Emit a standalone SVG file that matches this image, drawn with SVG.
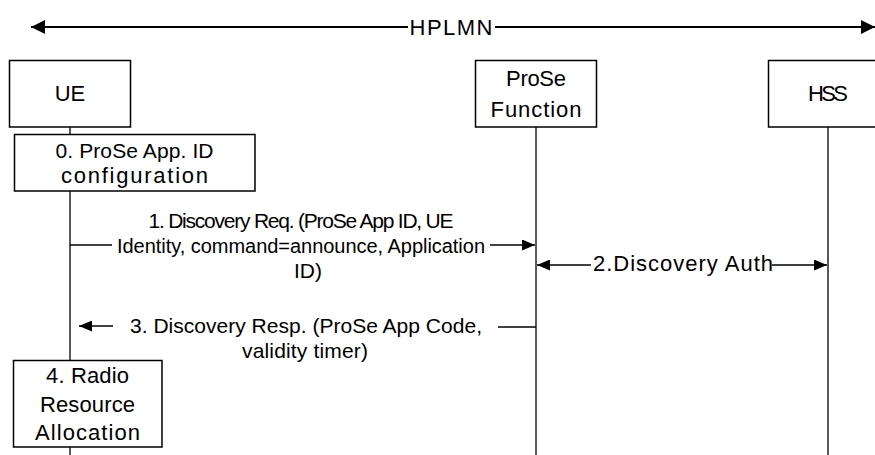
<svg xmlns="http://www.w3.org/2000/svg" width="875" height="455" viewBox="0 0 875 455">
<defs>
<style>
text{font-family:"Liberation Sans",Arial,sans-serif;font-size:21px;fill:#000;text-anchor:middle}
.l22{font-size:22px}
.box{fill:#fff;stroke:#000;stroke-width:1.5}
.life{stroke:#000;stroke-width:1.3;fill:none}
.msg{stroke:#000;stroke-width:1.3;fill:none}
.big{stroke:#000;stroke-width:2;fill:none}
</style>
<marker id="ah" markerUnits="userSpaceOnUse" markerWidth="13" markerHeight="11" refX="13" refY="5.5" orient="auto">
<path d="M0,0 L13,5.5 L0,11 z" fill="#000"/>
</marker>
<marker id="ahb" markerUnits="userSpaceOnUse" markerWidth="14" markerHeight="14" refX="14" refY="7" orient="auto">
<path d="M0,0 L14,7 L0,14 z" fill="#000"/>
</marker>
</defs>
<rect width="875" height="455" fill="#fff"/>

<g id="hplmn">
<line class="big" x1="408" y1="27" x2="31" y2="27" marker-end="url(#ahb)"/>
<line class="big" x1="495" y1="27" x2="875" y2="27" marker-end="url(#ahb)"/>
<text x="451" y="35" class="l22" textLength="83">HPLMN</text>
</g>

<g id="connectors">
<line class="life" x1="70" y1="127" x2="70" y2="134"/>
<line class="life" x1="70" y1="191" x2="70" y2="360"/>
<line class="life" x1="70" y1="447" x2="70" y2="455"/>
<line class="life" x1="536" y1="127" x2="536" y2="455"/>
<line class="life" x1="828" y1="127" x2="828" y2="455"/>

<g id="msg1">
<line class="msg" x1="70" y1="245" x2="112" y2="245"/>
<line class="msg" x1="490" y1="245" x2="535" y2="245" marker-end="url(#ah)"/>
<text x="301" y="228" textLength="305">1. Discovery Req. (ProSe App ID, UE</text>
<text x="301" y="253" style="font-size:20px" textLength="368">Identity, command=announce, Application</text>
<text x="308" y="278">ID)</text>
</g>

<g id="msg2">
<line class="msg" x1="591" y1="265" x2="537" y2="265" marker-end="url(#ah)"/>
<line class="msg" x1="772" y1="265" x2="827" y2="265" marker-end="url(#ah)"/>
<text x="683" y="271" class="l22" textLength="180">2.Discovery Auth</text>
</g>

<g id="msg3">
<line class="msg" x1="113" y1="326" x2="79" y2="326" marker-end="url(#ah)"/>
<line class="msg" x1="498" y1="327" x2="536" y2="327"/>
<text x="306" y="333" textLength="352">3. Discovery Resp. (ProSe App Code,</text>
<text x="305" y="358" textLength="126">validity timer)</text>
</g>
</g>

<g id="UE">
<rect class="box" x="9.5" y="60.5" width="121" height="66.5"/>
<text x="70" y="101" class="l22">UE</text>
</g>

<g id="ProSeFunction">
<rect class="box" x="475.5" y="60.5" width="121" height="66.5"/>
<text x="536" y="86" class="l22" textLength="60">ProSe</text>
<text x="536" y="117" class="l22" textLength="91">Function</text>
</g>

<g id="HSS">
<rect class="box" x="768.5" y="60.5" width="121" height="66.5"/>
<text x="828" y="101" class="l22" textLength="40">HSS</text>
</g>

<g id="step0">
<rect class="box" x="14.5" y="134.5" width="240.5" height="56.5"/>
<text x="134.5" y="158" textLength="158">0. ProSe App. ID</text>
<text x="134.5" y="183" class="l22" textLength="147">configuration</text>
</g>

<g id="step4">
<rect class="box" x="13.5" y="360.5" width="148.5" height="86.5"/>
<text x="87.5" y="383" class="l22" textLength="83">4. Radio</text>
<text x="87.5" y="412" class="l22" textLength="95">Resource</text>
<text x="87.5" y="440" class="l22" textLength="105">Allocation</text>
</g>
</svg>
